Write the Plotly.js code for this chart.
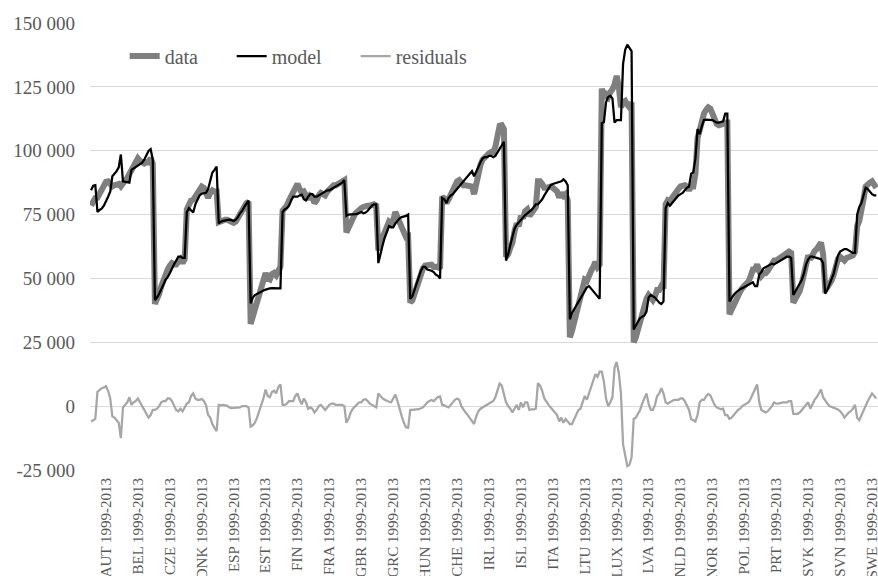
<!DOCTYPE html>
<html>
<head>
<meta charset="utf-8">
<script src="https://cdn.plot.ly/plotly-3.0.1.min.js"></script>
<style>
  html, body { margin: 0; padding: 0; overflow: hidden; background: #fff; }
  #chart { width: 878px; height: 576px; }
</style>
</head>
<body>
<div id="chart"></div>
<script>
// Panel of 25 countries, 15 annual observations each (1999-2013).
const countries = ['AUT','BEL','CZE','DNK','ESP','EST','FIN','FRA','GBR','GRC','HUN','CHE','IRL',
                   'ISL','ITA','LTU','LUX','LVA','NLD','NOR','POL','PRT','SVK','SVN','SWE'];
const period = '1999-2013';
const yearsPerCountry = 15;

// Observed values, one row per country
const dataValues = [
  78500, 80800, 81500, 81600, 83300, 84300, 85800, 87800, 88000, 87000, 86000, 86500, 86500, 87000, 86000,
  87500, 88300, 89300, 91000, 93000, 94500, 95500, 97000, 96000, 95300, 95000, 95500, 95400, 97100, 95000,
  40000, 41500, 44000, 47000, 49500, 51500, 53500, 55000, 56000, 55500, 55500, 56500, 57500, 56000, 57500,
  77000, 79000, 80500, 80800, 82000, 83500, 85000, 86000, 85500, 84000, 81500, 83500, 84500, 84000, 84000,
  72000, 72500, 73000, 73000, 73000, 72500, 72000, 71800, 72300, 73500, 75000, 76500, 78000, 79500, 80000,
  32200, 35000, 37000, 39500, 42500, 45000, 48300, 52100, 50000, 49600, 51700, 52200, 51200, 53600, 54600,
  76500, 77500, 78500, 80500, 82500, 84000, 86000, 87000, 85000, 83500, 84000, 82000, 81000, 82500, 82000,
  79500, 80500, 82500, 83500, 83000, 82500, 84000, 85000, 86000, 86500, 86500, 87000, 87500, 88000, 88500,
  68000, 70000, 72500, 74000, 75200, 76000, 77000, 77500, 78000, 78500, 78500, 78500, 79000, 79000, 78500,
  61000, 64000, 66000, 68500, 70500, 72200, 71500, 73000, 76000, 74500, 72000, 70000, 67700, 66200, 66500,
  40500, 41500, 44000, 47200, 49800, 52000, 54000, 55000, 55000, 55300, 55400, 54500, 54500, 54600, 53800,
  82000, 81300, 79500, 81000, 83000, 84500, 86500, 88000, 88500, 87000, 86500, 86500, 86500, 86200, 86000,
  83000, 88000, 92000, 94500, 96500, 97500, 98000, 99000, 99500, 99500, 101500, 105500, 109800, 110000, 108500,
  58500, 59500, 62000, 64000, 68500, 71500, 70500, 74500, 73500, 76300, 77000, 74500, 75500, 76500, 78000,
  88000, 88000, 87000, 85500, 85500, 86000, 86000, 85500, 84800, 84000, 81700, 83500, 82300, 83000, 80500,
  27000, 29500, 33000, 36500, 39500, 41500, 45500, 49500, 49000, 52000, 53000, 54500, 56500, 54500, 55500,
  124300, 120700, 122000, 121000, 123000, 124000, 126000, 129300, 125000, 117000, 119000, 119500, 118000, 117000, 119000,
  25000, 27000, 30500, 33000, 36000, 38500, 42000, 43500, 42000, 41500, 43000, 45500, 45500, 47000, 46000,
  79000, 80500, 80000, 81500, 83000, 84000, 85000, 86000, 86500, 86500, 86000, 84500, 86000, 86000, 91000,
  105000, 108000, 112000, 114500, 116000, 117000, 116500, 114000, 112000, 110500, 110000, 110000, 110500, 111000, 111000,
  36000, 38000, 40000, 42000, 43800, 44800, 46200, 47100, 48000, 48900, 51000, 53500, 53500, 55500, 53000,
  51000, 52000, 52000, 53000, 54500, 55800, 57000, 57000, 57500, 58300, 58800, 59500, 60000, 60500, 60000,
  40500, 42000, 43500, 45000, 48000, 51500, 56000, 59000, 57500, 59500, 60700, 61500, 62700, 64000, 59500,
  46000, 46500, 47500, 49200, 51500, 54700, 57700, 58500, 58000, 57000, 58000, 58500, 58500, 59000, 60500,
  70500, 72500, 76000, 81000, 86000, 87000, 87500, 88000, 86500, 85500
];

// Fitted values
const modelValues = [
  84500, 86300, 86500, 76000, 76800, 77300, 78500, 80000, 82000, 84000, 90000, 91000, 92000, 93500, 98500,
  88000, 87800, 87800, 87500, 92500, 93000, 93500, 94000, 94500, 95300, 96500, 98000, 99900, 100600, 96500,
  41500, 42500, 44000, 45500, 47500, 49500, 50500, 52000, 54000, 55500, 57000, 58500, 58500, 58000, 58000,
  76000, 77500, 76500, 75800, 79000, 81000, 82500, 83200, 83500, 83500, 85000, 88000, 91500, 92500, 93800,
  71500, 72200, 72500, 72700, 72900, 73000, 72800, 72500, 73000, 74000, 75500, 76500, 78000, 79500, 80500,
  40200, 42500, 43500, 44000, 44500, 45000, 45300, 45600, 46000, 46100, 46200, 46200, 46200, 46100, 46100,
  76000, 77000, 77500, 78500, 80500, 82000, 82000, 82000, 82500, 82800, 81000, 80500, 82000, 83000, 83000,
  82000, 82000, 82500, 83000, 83500, 84000, 84500, 84500, 85000, 85500, 86000, 86500, 87000, 87500, 88500,
  74500, 75000, 75000, 75000, 75200, 75300, 75500, 76000, 75500, 75800, 76500, 77500, 78500, 79000, 79000,
  56000, 60000, 63000, 66000, 68500, 70500, 70000, 70000, 71500, 72500, 73500, 74000, 74200, 74500, 75000,
  42000, 43000, 45500, 48500, 51000, 53000, 54500, 54500, 53500, 53300, 53000, 52500, 51500, 51000, 50000,
  81500, 81000, 79500, 81500, 82500, 83000, 84000, 85000, 86000, 87000, 88000, 89000, 90000, 91000, 92000,
  90000, 92000, 94000, 95500, 97000, 97500, 97500, 98000, 98000, 97500, 98000, 99500, 101000, 102000, 103500,
  57000, 59500, 63000, 66500, 69500, 71000, 72000, 73000, 74000, 74800, 75500, 76000, 76800, 77800, 79000,
  79000, 80000, 81000, 82500, 84000, 85500, 86500, 87000, 87300, 87500, 87700, 88000, 88800, 88000, 86500,
  34000, 36500, 38000, 39500, 41000, 42500, 44000, 45500, 46500, 47000, 46000, 45000, 44000, 43000, 42000,
  110800, 111200, 119000, 121000, 121500, 120500, 111000, 112000, 112000, 112000, 134000, 139500, 141500, 140000, 139000,
  30000, 31500, 33500, 34500, 35000, 35500, 37000, 42500, 43500, 43000, 42500, 41500, 40500, 40000, 41000,
  77500, 79500, 78500, 79500, 80500, 81500, 82500, 83000, 83500, 84500, 85500, 86000, 91000, 91500, 97000,
  108500, 106500, 109500, 112000, 112200, 112200, 112200, 112000, 111500, 111000, 111000, 111200, 111500, 114500, 114500,
  41000, 42500, 43500, 44500, 45300, 45800, 46200, 46600, 47000, 47400, 48000, 48500, 47000, 47000, 51500,
  52500, 54000, 54500, 55000, 55500, 55800, 55500, 56000, 56500, 57000, 57300, 58000, 58500, 58500, 58000,
  43500, 45000, 46500, 47500, 49500, 52000, 55500, 57500, 58500, 58500, 58200, 58000, 57700, 57500, 56000,
  44000, 45500, 47500, 49500, 52000, 55500, 59000, 60500, 61000, 61500, 61500, 61000, 60500, 60000, 60000,
  75000, 78000, 79500, 82500, 85500, 85000, 84000, 83000, 82500, 82500
];

// Residuals (observed minus fitted)
const residualValues = [
  -6000, -5500, -5000, 5600, 6500, 7000, 7300, 7800, 6000, 3000, -4000, -4500, -5500, -6500, -12500,
  -500, 500, 1500, 3500, 500, 1500, 2000, 3000, 1500, 0, -1500, -2500, -4500, -3500, -1500,
  -1500, -1000, 0, 1500, 2000, 2000, 3000, 3000, 2000, 0, -1500, -2000, -1000, -2000, -500,
  1000, 1500, 4000, 5000, 3000, 2500, 2500, 2800, 2000, 500, -3500, -4500, -7000, -8500, -9800,
  500, 300, 500, 300, 100, -500, -800, -700, -700, -500, -500, 0, 0, 0, -500,
  -8000, -7500, -6500, -4500, -2000, 0, 3000, 6500, 4000, 3500, 5500, 6000, 5000, 7500, 8500,
  500, 500, 1000, 2000, 2000, 2000, 4000, 5000, 2500, 700, 3000, 1500, -1000, -500, -1000,
  -2500, -1500, 0, 500, -500, -1500, -500, 500, 1000, 1000, 500, 500, 500, 500, 0,
  -6500, -5000, -2500, -1000, 0, 700, 1500, 1500, 2500, 2700, 2000, 1000, 500, 0, -500,
  5000, 4000, 3000, 2500, 2000, 1700, 1500, 3000, 4500, 2000, -1500, -4000, -6500, -8300, -8500,
  -1500, -1500, -1500, -1300, -1200, -1000, -500, 500, 1500, 2000, 2400, 2000, 3000, 3600, 3800,
  500, 300, 0, -500, 500, 1500, 2500, 3000, 2500, 0, -1500, -2500, -3500, -4800, -6000,
  -7000, -4000, -2000, -1000, -500, 0, 500, 1000, 1500, 2000, 3500, 6000, 8800, 8000, 5000,
  1500, 0, -1000, -2500, -1000, 500, -1500, 1500, -500, 1500, 1500, -1500, -1300, -1300, -1000,
  9000, 8000, 6000, 3000, 1500, 500, -500, -1500, -2500, -3500, -6000, -4500, -6500, -5000, -6000,
  -7000, -7000, -5000, -3000, -1500, -1000, 1500, 4000, 2500, 5000, 7000, 9500, 12500, 11500, 13500,
  13500, 9500, 3000, 0, 1500, 3500, 15000, 17300, 13000, 5000, -15000, -20000, -23500, -23000, -20000,
  -5000, -4500, -3000, -1500, 1000, 3000, 5000, 1000, -1500, -1500, 500, 4000, 5000, 7000, 5000,
  1500, 1000, 1500, 2000, 2500, 2500, 2500, 3000, 3000, 2000, 500, -1500, -5000, -5500, -6000,
  -3500, 1500, 2500, 2500, 3800, 4800, 4300, 2000, 500, -500, -1000, -1200, -1000, -3500, -3500,
  -5000, -4500, -3500, -2500, -1500, -1000, 0, 500, 1000, 1500, 3000, 5000, 6500, 8500, 1500,
  -1500, -2000, -2500, -2000, -1000, 0, 1500, 1000, 1000, 1300, 1500, 1500, 1500, 2000, 2000,
  -3000, -3000, -3000, -2500, -1500, -500, 500, 1500, -1000, 1000, 2500, 3500, 5000, 6500, 3500,
  2000, 1000, 0, -300, -500, -800, -1300, -2000, -3000, -4500, -3500, -2500, -2000, -1000, 500,
  -4500, -5500, -3500, -1500, 500, 2000, 3500, 5000, 4000, 3000
];

// Value axis ticks
const yTickValues = [-25000, 0, 25000, 50000, 75000, 100000, 125000, 150000];
const yTickLabels = ['-25 000', '0', '25 000', '50 000', '75 000', '100 000', '125 000', '150 000'];

// Observation positions along the category axis
const obsIndex = dataValues.map((_, i) => i);
// One label per country, centred on its block of years
const xTickValues = countries.map((_, k) => k * yearsPerCountry + (yearsPerCountry - 1) / 2);
const xTickLabels = countries.map(c => c + ' ' + period);

const textColor = '#595959';
const serif = 'Liberation Serif, Times New Roman, serif';

const traces = [
  { x: obsIndex, y: dataValues, name: 'data', type: 'scatter', mode: 'lines',
    line: { color: '#7f7f7f', width: 6 }, legendwidth: 62 },
  { x: obsIndex, y: modelValues, name: 'model', type: 'scatter', mode: 'lines',
    line: { color: '#000000', width: 2.25 }, legendwidth: 79 },
  { x: obsIndex, y: residualValues, name: 'residuals', type: 'scatter', mode: 'lines',
    line: { color: '#a6a6a6', width: 2.25 } }
];

const layout = {
  width: 878, height: 576,
  margin: { l: 90, r: 0, t: 23, b: 106, pad: 0 },
  paper_bgcolor: '#ffffff', plot_bgcolor: '#ffffff',
  font: { family: serif, size: 19, color: textColor },
  showlegend: true,
  legend: {
    orientation: 'h', x: 0.044, xanchor: 'left', y: 0.926, yanchor: 'middle',
    bgcolor: 'rgba(0,0,0,0)', font: { family: serif, size: 20, color: textColor },
    traceorder: 'normal', itemwidth: 30
  },
  xaxis: {
    range: [-0.5, 369.8], showgrid: false, zeroline: false, showline: false,
    tickmode: 'array', tickvals: xTickValues, ticktext: xTickLabels,
    tickangle: -90, ticks: '', ticklabelstandoff: 4, ticklabeloverflow: 'allow',
    tickfont: { family: serif, size: 15, color: textColor }
  },
  yaxis: {
    range: [-25000, 150000], showgrid: true, gridcolor: '#d9d9d9', gridwidth: 1,
    zeroline: false, showline: false,
    tickmode: 'array', tickvals: yTickValues, ticktext: yTickLabels,
    ticks: '', ticklabelstandoff: 14,
    tickfont: { family: serif, size: 19, color: textColor }
  }
};

Plotly.newPlot('chart', traces, layout, { displayModeBar: false, staticPlot: true });
</script>
</body>
</html>
